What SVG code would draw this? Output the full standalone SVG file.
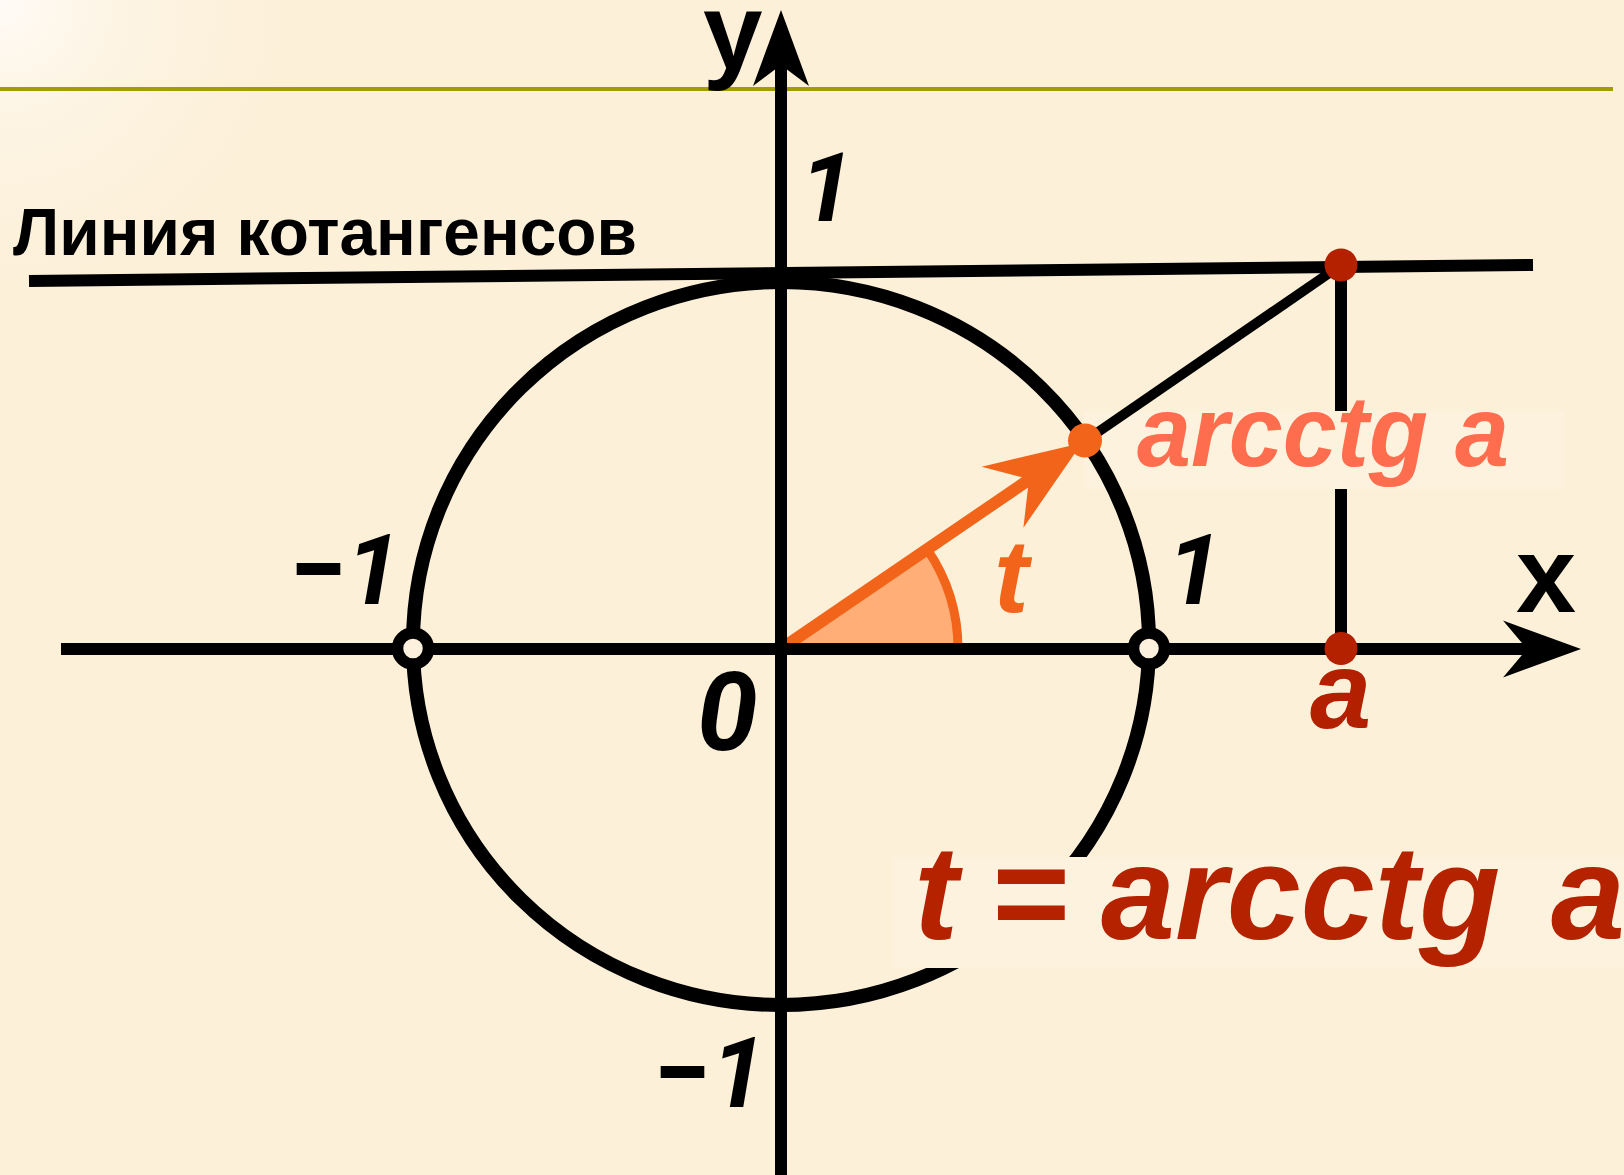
<svg xmlns="http://www.w3.org/2000/svg" width="1624" height="1175" viewBox="0 0 1624 1175">
<defs>
<radialGradient id="glow" cx="0" cy="0" r="320" gradientUnits="userSpaceOnUse">
<stop offset="0" stop-color="#fffbf6"/>
<stop offset="1" stop-color="#fcf0d9" stop-opacity="0"/>
</radialGradient>
<clipPath id="gap">
<path clip-rule="evenodd" d="M0,0 H1624 V1175 H0 Z M892,857 H1624 V968 H892 Z"/>
</clipPath>
<style>
.ln{stroke:#000;stroke-width:12;fill:none}
.thin{stroke:#000;stroke-width:10;fill:none}
.circ{stroke:#000;stroke-width:14;fill:none}
.head{fill:#000}
.open{fill:#fdf0dc;stroke:#000;stroke-width:11.5}
.red{fill:#b42100}
.lbl{font-family:"Liberation Sans",Arial,sans-serif;font-weight:bold}
.num{font-family:Roboto,"Liberation Sans",Arial,sans-serif;font-weight:bold;font-style:italic}
.dash{font-family:"Liberation Sans",Arial,sans-serif;font-weight:bold}
.it{font-style:italic}
.blk{fill:#000}
.box{fill:#fdf2dd}
</style>
</defs>

<rect width="1624" height="1175" fill="#fcf0d9"/>
<rect width="420" height="320" fill="url(#glow)"/>
<line x1="0" y1="89" x2="1613" y2="89" stroke="#a39e00" stroke-width="4"/>
<rect class="box" x="1084" y="411" width="480" height="78"/>
<rect class="box" x="892" y="857" width="732" height="111"/>

<g id="angle-t">
<path d="M781,649 L958,649 A177,177 0 0 0 927,549 Z" fill="#ffae78"/>
<path d="M958,649 A177,177 0 0 0 927,549" fill="none" stroke="#f26419" stroke-width="9"/>
</g>

<g id="vector-shaft">
<line x1="781" y1="649" x2="1030" y2="479" stroke="#f26419" stroke-width="12"/>
</g>

<g id="axis-x">
<line class="ln" x1="61" y1="649" x2="1530" y2="649"/>
<polygon class="head" points="1581,649 1503,620.5 1527,649 1503,677.5"/>
</g>

<g id="axis-y">
<line class="ln" x1="781" y1="62" x2="781" y2="1175"/>
<polygon class="head" points="781,10 753,86 781,65 809,86"/>
</g>

<g id="cot-line">
<line class="ln" x1="29" y1="281" x2="1533" y2="265"/>
</g>

<g id="unit-circle">
<ellipse class="circ" cx="781" cy="643.5" rx="368" ry="361.5" clip-path="url(#gap)"/>
</g>

<g id="connectors">
<line class="thin" x1="1085" y1="441" x2="1341" y2="265"/>
<line class="ln" x1="1341" y1="265" x2="1341" y2="411"/>
<line class="ln" x1="1341" y1="489" x2="1341" y2="649"/>
</g>

<g id="point-minus1">
<circle class="open" cx="413" cy="648.5" r="15.5"/>
</g>
<g id="point-1">
<circle class="open" cx="1149" cy="648.5" r="15.5"/>
</g>
<g id="point-a">
<circle class="red" cx="1341" cy="648.5" r="16.5"/>
</g>
<g id="point-cot">
<circle class="red" cx="1341" cy="265" r="16.5"/>
</g>
<g id="point-t">
<polygon fill="#f26419" points="1082,443 981.6,466.7 1029,479 1023.4,527.7"/>
<circle cx="1085" cy="440.5" r="17" fill="#f26419"/>
</g>

<g id="labels">
<text class="lbl blk" x="703" y="69" font-size="107">y</text>
<text class="lbl blk" x="1516" y="612" font-size="108">x</text>
<text class="num blk" x="800" y="221" font-size="96">1</text>
<text class="num blk" x="1167" y="604" font-size="98">1</text>
<text class="dash blk" x="294" y="601" font-size="120" textLength="49" lengthAdjust="spacingAndGlyphs">–</text>
<text class="num blk" x="346" y="604" font-size="98">1</text>
<text class="dash blk" x="658" y="1104" font-size="120" textLength="49" lengthAdjust="spacingAndGlyphs">–</text>
<text class="num blk" x="711" y="1107" font-size="98">1</text>
<text class="num blk" x="697" y="750" font-size="109">0</text>
<text class="lbl blk" x="13" y="255" font-size="66" textLength="624" lengthAdjust="spacingAndGlyphs">Линия котангенсов</text>
<text class="lbl it" x="1137" y="466" font-size="100" fill="#ff6d4f" textLength="372" lengthAdjust="spacingAndGlyphs">arcctg a</text>
<text class="lbl it" x="994" y="612" font-size="104" fill="#f26419">t</text>
<text class="lbl it" x="1310" y="728" font-size="110" fill="#b32000">a</text>
<text class="lbl it" y="939" font-size="133" fill="#b42200"><tspan x="914">t</tspan><tspan x="990">=</tspan><tspan x="1101">arcctg</tspan><tspan x="1551">a</tspan></text>
</g>
</svg>
